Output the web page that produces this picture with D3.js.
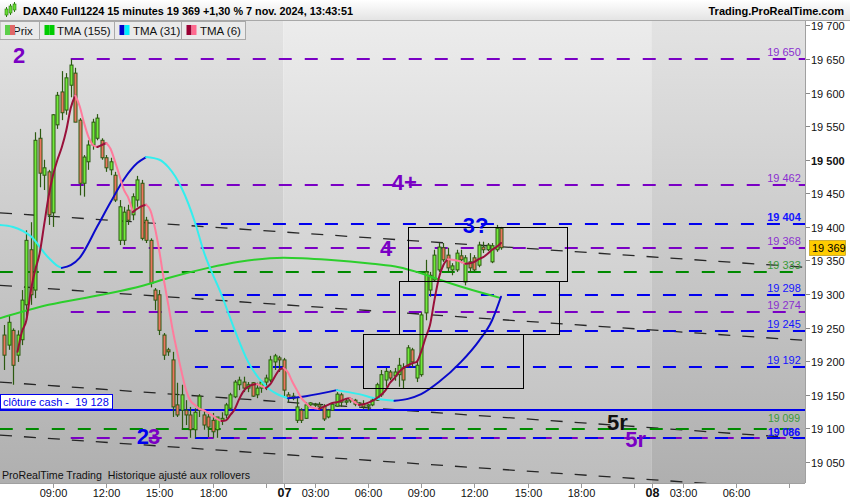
<!DOCTYPE html>
<html><head><meta charset="utf-8">
<script src="https://cdn.jsdelivr.net/npm/d3@7/dist/d3.min.js"></script>
<style>html,body{margin:0;padding:0;background:#fff;}svg{display:block;font-family:"Liberation Sans",Arial,sans-serif;}text{white-space:pre;}</style>
</head><body>
<svg id="chart" width="850" height="500"></svg>
<script>
// ---------- DATA ----------
// bars are 15-minute bars counted from the session open 6 nov 01:15 (83 bars per session)
const BARS_PER_DAY = 83;
const FIRST_BAR = 20;
const opens = [
19239,19224,19246,19209,19232,19284,19366,19306,19532,19477,
19482,19421,19552,19601,19574,19611,19629,19559,19465,19497,
19522,19532,19529,19503,19485,19477,19380,19380,19425,19418,
19440,19465,19410,19380,19306,19299,19239,19217,19202,19135,
19127,19127,19120,19098,19127,19120,19117,19112,19098,19112,
19120,19130,19147,19165,19169,19160,19168,19150,19160,19169,
19172,19199,19205,19202,19150,19145,19112,19127,19115,19135,
19136,19135,19133,19117,19127,19133,19150,19139,19141,19142,
19136,19136,19133,19135,19142,19150,19172,19184,19178,19180,
19190,19194,19217,19175,19180,19272,19306,19321,19336,19369,
19358,19336,19336,19357,19318,19348,19354,19343,19370,19366,
19348,19366,19398];
const highs = [
19254,19269,19249,19246,19306,19395,19407,19541,19546,19500,
19485,19568,19601,19632,19629,19650,19637,19562,19507,19529,
19561,19568,19532,19507,19503,19482,19440,19430,19433,19450,
19476,19470,19415,19383,19309,19306,19242,19220,19214,19168,
19165,19142,19132,19130,19151,19127,19123,19123,19117,19124,
19138,19153,19172,19177,19177,19169,19169,19168,19172,19180,
19208,19211,19208,19205,19154,19153,19147,19130,19139,19139,
19138,19139,19136,19129,19139,19154,19153,19144,19145,19144,
19139,19142,19136,19145,19168,19187,19190,19187,19190,19205,
19197,19224,19220,19202,19273,19351,19333,19366,19376,19376,
19369,19346,19366,19366,19358,19361,19358,19378,19378,19376,
19376,19403,19400];
const lows = [
19187,19217,19165,19199,19224,19261,19284,19294,19459,19455,
19403,19400,19546,19559,19567,19593,19556,19447,19445,19485,
19515,19529,19500,19482,19477,19437,19373,19373,19403,19410,
19430,19380,19376,19310,19276,19239,19202,19208,19117,19117,
19098,19105,19086,19086,19117,19098,19087,19086,19086,19105,
19115,19127,19145,19157,19154,19154,19147,19145,19153,19157,
19169,19187,19184,19147,19139,19142,19108,19108,19114,19133,
19132,19127,19111,19115,19126,19132,19132,19135,19138,19133,
19133,19129,19127,19133,19141,19147,19162,19172,19171,19162,
19160,19191,19191,19169,19177,19261,19296,19318,19333,19348,
19333,19328,19333,19346,19313,19333,19333,19340,19361,19364,
19346,19363,19366];
const closes = [
19209,19258,19194,19239,19291,19380,19299,19529,19480,19488,
19418,19567,19596,19570,19622,19641,19556,19465,19504,19522,
19556,19562,19503,19488,19497,19440,19430,19422,19410,19445,
19470,19383,19380,19316,19291,19246,19209,19214,19132,19120,
19150,19120,19098,19124,19148,19105,19102,19095,19117,19115,
19135,19150,19169,19172,19160,19165,19148,19160,19169,19175,
19202,19208,19202,19157,19145,19148,19132,19112,19135,19138,
19135,19132,19114,19127,19136,19151,19139,19141,19144,19136,
19138,19132,19135,19142,19165,19180,19185,19175,19184,19194,
19172,19220,19199,19194,19269,19333,19328,19358,19370,19351,
19339,19342,19361,19351,19354,19339,19336,19373,19366,19373,
19372,19398,19369];

// TMA (6), one value per bar from TMA6_FIRST
const TMA6_FIRST = 23;
const tma6 = [
19214,19244,19261,19305,19336,19361,19403,19445,19477,19500,
19519,19544,19577,19596,19580,19555,19534,19522,19519,19522,
19525,19516,19497,19476,19455,19443,19422,19427,19431,19433,
19424,19398,19363,19321,19284,19246,19214,19184,19157,19141,
19135,19129,19127,19123,19119,19114,19111,19112,19120,19129,
19144,19156,19162,19165,19166,19163,19160,19166,19177,19187,
19190,19183,19169,19157,19145,19138,19132,19130,19129,19132,
19135,19138,19139,19141,19144,19145,19139,19135,19136,19138,
19141,19145,19150,19157,19168,19175,19184,19190,19194,19197,
19199,19214,19235,19254,19291,19324,19343,19352,19351,19350,
19348,19345,19346,19348,19352,19355,19360,19366,19370,19376];
// TMA (31) and TMA (155): [bar, value]
const tma31 = [[19,19403],[22,19400],[26,19386],[30,19354],[32,19342],[33,19339],[35,19343],[37,19354],
  [41,19401],[44,19437],[47,19471],[50,19495],[52,19504],[55,19500],[57,19489],[60,19458],[63,19407],
  [65,19363],[69,19299],[72,19246],[75,19199],[79,19163],[84,19145],[88,19148],[95,19157],[100,19151],
  [104,19144],[108,19141],[111,19144],[114,19151],[118,19169],[123,19199],[127,19230],[130,19261],[132,19296]];
const tma155 = [[19,19264],[30,19284],[42,19299],[51,19312],[57,19324],[66,19339],[73,19348],[83,19354],
  [93,19351],[103,19345],[109,19340],[113,19333],[117,19324],[124,19309],[132,19294]];

// horizontal levels
const levelValues    = [19650, 19462, 19404, 19368, 19333, 19298, 19274, 19245, 19192, 19099, 19086, 19086];
const levelKinds     = ["purple","purple","blue","purple","green","blue","purple","blue","blue","green","purple","blue"];
const levelStartBars = [35, 35, 63, 35, 19, 63, 35, 63, 63, 19, 35, 63];
const levelBold      = [false,false,true,false,false,false,false,false,false,false,false,true];
const cashClose = 19128;
const lastPrice = 19369;

// dashed trend lines [[bar, price],[bar, price]]
const trendLines = [
  [[19.05,19421],[200.55,19340]],
  [[19.05,19313],[200.55,19231]],
  [[19.05,19169],[200.55,19085]],
  [[19.05,19090],[200.55,19008]]
];
// rectangles
const boxFrom = [111, 109, 101];
const boxTo   = [147, 145, 137];
const boxLo   = [19320, 19240, 19160];
const boxHi   = [19400, 19320, 19240];

// annotations
const noteText = ["2","4+","4","3?","2","3","5r","5r"];
const noteBar  = [22, 107.4, 104.7, 123.4, 49.9, 52.4, 155.9, 160];
const noteVal  = [19644, 19455, 19357, 19391, 19077, 19077, 19098, 19072];
const noteKind = ["purple","purple","purple","blue","blue","purple","black","purple"];

const priceTicks = d3.range(19050, 19701, 50);
const timeTickDay  = [0,0,0,0,0, 1,1,1,1,1,1,1,1, 2,2,2,2];
const timeTickTime = ["09:00","12:00","15:00","18:00","21:00","01:15","03:00","06:00","09:00","12:00","15:00","18:00","21:00","01:15","03:00","06:00","09:00"];
const timeTickText = ["09:00","12:00","15:00","18:00","","07","03:00","06:00","09:00","12:00","15:00","18:00","","08","03:00","06:00",""];
const dayStarts = [0, 83, 166];

// ---------- DRAW ----------
const COL = {purple:"#7a00c4", blue:"#0000ee", green:"#008a00", black:"#111"};
const LABCOL = {purple:"#8a2fd0", blue:"#1414ff", green:"#3a9a3a"};
const svg = d3.select("#chart");
const P = {l:0, r:805, t:20, b:483};
const x = d3.scaleLinear().domain([19.05, 200.55]).range([P.l, P.r]);
const y = d3.scaleLinear().domain([19018.7, 19708.1]).range([P.b, P.t]);
const barOf = (d, t) => { const [h,m] = t.split(":").map(Number); return d*BARS_PER_DAY + (h + m/60 - 1.25)*4; };
const fmt = v => d3.format(",")(v).replace(",", " ");

const defs = svg.append("defs");
function grad(id, c0, c1){
  const g = defs.append("linearGradient").attr("id",id).attr("x1",0).attr("y1",0).attr("x2",0).attr("y2",1);
  g.append("stop").attr("offset",0).attr("stop-color",c0);
  g.append("stop").attr("offset",1).attr("stop-color",c1);
}
grad("bgA","#e3e3e3","#afafaf");
grad("bgB","#ececec","#bdbdbd");
grad("hdr","#ffffff","#e4e4e4");
defs.append("clipPath").attr("id","clip").append("rect")
  .attr("x",P.l).attr("y",P.t).attr("width",P.r-P.l).attr("height",P.b-P.t);

svg.append("rect").attr("width",850).attr("height",500).attr("fill","#fff");
// day backgrounds
dayStarts.forEach((s,i)=>{
  const x0 = Math.max(P.l, x(s-0.1));
  const x1 = i < dayStarts.length-1 ? x(dayStarts[i+1]-0.1) : P.r;
  svg.append("rect").attr("x",x0).attr("y",P.t).attr("width",x1-x0).attr("height",P.b-P.t)
    .attr("fill", i===1 ? "url(#bgB)" : "url(#bgA)");
});

const plot = svg.append("g").attr("clip-path","url(#clip)");

// trend lines
const tl = d3.line().x(d=>x(d[0])).y(d=>y(d[1]));
trendLines.forEach(l=>{
  plot.append("path").attr("d",tl(l)).attr("fill","none").attr("stroke","#151515")
    .attr("stroke-width",1.3).attr("stroke-dasharray","12,12").attr("opacity",0.9);
});

// levels
levelValues.forEach((v,i)=>{
  const yy = Math.round(y(v));
  plot.append("line").attr("x1",x(levelStartBars[i])).attr("x2",P.r).attr("y1",yy).attr("y2",yy)
    .attr("stroke",COL[levelKinds[i]]).attr("stroke-width",2).attr("stroke-dasharray","13,13");
});
// cash close line
plot.append("line").attr("x1",P.l).attr("x2",P.r).attr("y1",Math.round(y(cashClose))).attr("y2",Math.round(y(cashClose)))
  .attr("stroke","#0000ee").attr("stroke-width",2);

// candles
const CAN_OUT = "#2c5a10", UPF = "#72ea3c", DNF = "#ec7560";
opens.forEach((o,i)=>{
  const b = FIRST_BAR + i, cx = Math.round(x(b)) + 0.5;
  const h = highs[i], l = lows[i], c = closes[i];
  plot.append("line").attr("x1",cx).attr("x2",cx).attr("y1",y(h)).attr("y2",y(l))
    .attr("stroke",CAN_OUT).attr("stroke-width",1.2);
  const yt = Math.min(y(o),y(c)), hb = Math.max(1, Math.abs(y(o)-y(c)));
  plot.append("rect").attr("x",cx-1.5).attr("y",yt).attr("width",3).attr("height",hb)
    .attr("fill", c>=o ? UPF : DNF).attr("stroke",CAN_OUT).attr("stroke-width",1);
});

// moving averages
const ml = d3.line().x(d=>x(d[0])).y(d=>y(d[1])).curve(d3.curveMonotoneX);
function colored(pts, up, down){
  const runs = []; let cur = [pts[0]], dir = null;
  for (let i=1;i<pts.length;i++){
    const d = pts[i][1] > pts[i-1][1] ? 1 : -1;
    if (dir===null || d===dir){ cur.push(pts[i]); dir = d; }
    else { runs.push({dir, pts:cur}); cur = [pts[i-1], pts[i]]; dir = d; }
  }
  runs.push({dir, pts:cur});
  runs.forEach(r=>{
    plot.append("path").attr("d",ml(r.pts)).attr("fill","none")
      .attr("stroke", r.dir>0 ? up : down).attr("stroke-width",2).attr("stroke-linecap","round");
  });
}
plot.append("path").attr("d",ml(tma155)).attr("fill","none").attr("stroke","#2ccf2c").attr("stroke-width",2);
colored(tma31, "#0a0acc", "#33eeee");
colored(tma6.map((v,i)=>[TMA6_FIRST+i, v]), "#99103a", "#ff7b9c");

// boxes
boxFrom.forEach((f,i)=>{
  const x0 = Math.round(x(f))+0.5, x1 = Math.round(x(boxTo[i]))+0.5;
  const y0 = Math.round(y(boxHi[i]))+0.5, y1 = Math.round(y(boxLo[i]))+0.5;
  plot.append("rect").attr("x",x0).attr("y",y0).attr("width",x1-x0).attr("height",y1-y0)
    .attr("fill","none").attr("stroke","#000").attr("stroke-width",1);
});

// annotations
noteText.forEach((t,i)=>{
  plot.append("text").attr("x",x(noteBar[i])).attr("y",y(noteVal[i])).text(t)
    .attr("font-size",22).attr("font-weight","bold").attr("fill",COL[noteKind[i]]);
});

// cash label
plot.append("rect").attr("x",0.5).attr("y",Math.round(y(cashClose))-15.5).attr("width",112).attr("height",14.5)
  .attr("fill","#fff").attr("stroke","#0000ee").attr("stroke-width",1);
plot.append("text").attr("x",3).attr("y",Math.round(y(cashClose))-4).attr("xml:space","preserve")
  .text("clôture cash -  " + fmt(cashClose))
  .attr("font-size",11).attr("fill","#0000ee");

// level labels (the two nearly equal levels near 19 100 get a small vertical separation)
const labelNudge = {9:-3.5, 10:1, 11:1};
levelValues.forEach((v,i)=>{
  plot.append("text").attr("x",784).attr("y",Math.round(y(v))-3.5+(labelNudge[i]||0)).attr("text-anchor","middle")
    .attr("font-size",labelNudge[i]?10.5:11).attr("font-weight",levelBold[i]?"bold":"normal")
    .attr("fill",LABCOL[levelKinds[i]]).text(fmt(v));
});

// bottom-left note
plot.append("text").attr("x",2).attr("y",479).attr("font-size",11).attr("fill","#111")
  .attr("textLength",248).attr("lengthAdjust","spacingAndGlyphs")
  .text("ProRealTime Trading  Historique ajusté aux rollovers");

// right axis
svg.append("rect").attr("x",P.r).attr("y",P.t).attr("width",850-P.r).attr("height",500-P.t).attr("fill","#fff");
svg.append("rect").attr("x",0).attr("y",P.b).attr("width",850).attr("height",500-P.b).attr("fill","#fff");
svg.append("line").attr("x1",P.r+0.5).attr("x2",P.r+0.5).attr("y1",P.t).attr("y2",P.b).attr("stroke","#a0a0a0");
svg.append("line").attr("x1",0).attr("x2",P.r).attr("y1",P.b+0.5).attr("y2",P.b+0.5).attr("stroke","#a0a0a0");
priceTicks.forEach(v=>{
  const yy = Math.round(y(v))+0.5;
  svg.append("line").attr("x1",P.r+1).attr("x2",P.r+5).attr("y1",yy).attr("y2",yy).attr("stroke","#888");
  svg.append("text").attr("x",811).attr("y",yy+4).attr("font-size",11)
    .attr("font-weight", v===19500 ? "bold" : "normal").attr("fill","#111")
    .text(fmt(v));
});
// last price
const ly = y(lastPrice);
svg.append("rect").attr("x",809.5).attr("y",Math.round(ly)-7.5).attr("width",36).attr("height",15)
  .attr("fill","#ffcc00").attr("stroke","#b08a00").attr("stroke-width",0.6);
svg.append("text").attr("x",812).attr("y",Math.round(ly)+4).attr("font-size",11).attr("fill","#000")
  .text(fmt(lastPrice));

// time axis
timeTickTime.forEach((t,i)=>{
  const xx = Math.round(x(barOf(timeTickDay[i], t)))+0.5;
  if (xx > P.r) return;
  svg.append("line").attr("x1",xx).attr("x2",xx).attr("y1",P.b+1).attr("y2",P.b+5).attr("stroke","#999");
  const txt = timeTickText[i];
  if (txt) {
    const isDay = txt.length === 2;
    svg.append("text").attr("x",xx).attr("y",497).attr("text-anchor","middle")
      .attr("font-size", isDay ? 12.5 : 11).attr("font-weight", isDay ? "bold" : "normal")
      .attr("fill","#111").text(txt);
  }
});

// header
svg.append("rect").attr("x",0).attr("y",0).attr("width",850).attr("height",20).attr("fill","url(#hdr)");
svg.append("line").attr("x1",0).attr("x2",850).attr("y1",20.5).attr("y2",20.5).attr("stroke","#a8a8a8");
[[6,9,6],[10,6,7],[14,4,6]].forEach(([cx,yt,h])=>{
  svg.append("line").attr("x1",cx+0.5).attr("x2",cx+0.5).attr("y1",yt-2).attr("y2",yt+h+2).attr("stroke","#2c7a10");
  svg.append("rect").attr("x",cx-1).attr("y",yt).attr("width",3).attr("height",h).attr("fill","#66dd33").attr("stroke","#2c7a10").attr("stroke-width",0.6);
});
svg.append("text").attr("x",23).attr("y",15).attr("font-size",11.5).attr("font-weight","bold").attr("fill","#000")
  .attr("textLength",330).attr("lengthAdjust","spacingAndGlyphs")
  .text("DAX40 Full1224 15 minutes 19 369 +1,30 % 7 nov. 2024, 13:43:51");
svg.append("text").attr("x",844).attr("y",15).attr("text-anchor","end").attr("font-size",11).attr("font-weight","bold")
  .attr("fill","#000").text("Trading.ProRealTime.com");

// legend tabs
const tabs = [
  {x0:0, x1:39.5, label:"Prix", sw:["#5ccf4a","#e06868"], tx:13},
  {x0:39.5, x1:114.5, label:"TMA (155)", sw:["#00cc00","#00cc00"], tx:57},
  {x0:114.5, x1:181.5, label:"TMA (31)", sw:["#0000cc","#00eeff"], tx:133},
  {x0:181.5, x1:245.5, label:"TMA (6)", sw:["#990033","#ff6a8f"], tx:200}
];
tabs.forEach((t,i)=>{
  svg.append("rect").attr("x",t.x0).attr("y",21.5).attr("width",t.x1-t.x0).attr("height",18)
    .attr("fill","#eaeaea").attr("stroke","#a9a9a9").attr("stroke-width",1);
  svg.append("text").attr("x",t.tx).attr("y",35).attr("font-size",11.5).attr("fill","#111").text(t.label);
  const sx = t.x0 + 5;
  svg.append("rect").attr("x",sx).attr("y",25).attr("width",5).attr("height",10).attr("fill",t.sw[0]);
  svg.append("rect").attr("x",sx+5).attr("y",25).attr("width",5).attr("height",10).attr("fill",t.sw[1]);
});
</script>
</body></html>
